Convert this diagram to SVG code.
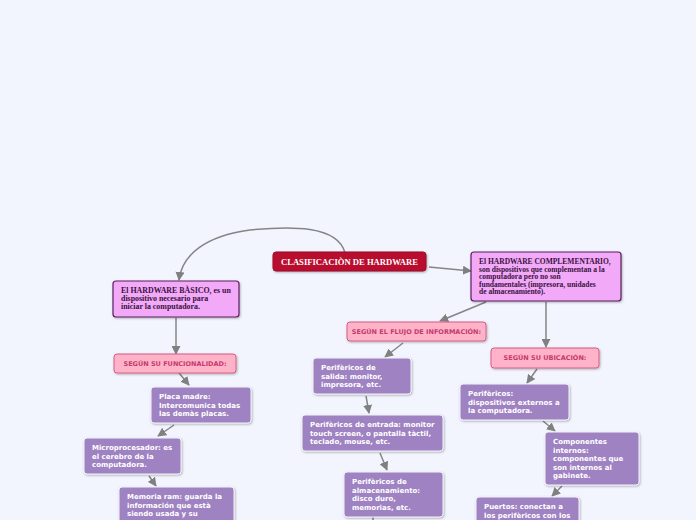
<svg xmlns="http://www.w3.org/2000/svg" width="696" height="520" viewBox="0 0 696 520">
<defs>
<marker id="ah" viewBox="0 0 10 10" refX="9" refY="5" markerWidth="9" markerHeight="9" markerUnits="userSpaceOnUse" orient="auto">
<path d="M0,0 L10,5 L0,10 z" fill="#808080"/>
</marker>
<filter id="sh" x="-10%" y="-10%" width="130%" height="140%">
<feDropShadow dx="0.8" dy="1" stdDeviation="0.8" flood-color="#000" flood-opacity="0.3"/>
</filter>
</defs>
<style>
.conn{fill:none;stroke:#858585;stroke-width:1.5;marker-end:url(#ah)}
.title{fill:#b80a2e;stroke:#9a0725;stroke-width:1}
.tt{font-family:"Liberation Serif","Times New Roman",serif;font-weight:bold;fill:#fff;font-size:8.6px}
.main{fill:#f1a9f8;stroke:#5c1f60;stroke-width:1.2}
.mt{font-family:"Liberation Serif","Times New Roman",serif;font-weight:bold;fill:#3b1240;font-size:7.9px}
.mt2{font-family:"Liberation Serif","Times New Roman",serif;font-weight:bold;fill:#3b1240;font-size:7.5px}
.lab{fill:#ffb3c9;stroke:#d65c86;stroke-width:1}
.lt{font-family:"DejaVu Sans",Verdana,sans-serif;font-weight:bold;fill:#c43a6c;font-size:6.5px}
.pb{fill:#9f82c2;stroke:#f4f1fa;stroke-width:1}
.pt{font-family:"DejaVu Sans",Verdana,sans-serif;font-weight:bold;fill:#fff;font-size:7px}
</style>
<rect width="696" height="520" fill="#f2f5fd"/>
<g id="connectors">
<path class="conn" d="M345,253 C338,225 290,226 250,230 C205,236 182,255 179,280"/>
<path class="conn" d="M176,318 L176,354"/>
<path class="conn" d="M179,373 L189,385"/>
<path class="conn" d="M174,425 L158,436"/>
<path class="conn" d="M149,476 L156,486"/>
<path class="conn" d="M429,267 L471,271"/>
<path class="conn" d="M486,302 L440,321"/>
<path class="conn" d="M546,302 L546,347"/>
<path class="conn" d="M403,343 L385,357"/>
<path class="conn" d="M366,396 L369,413"/>
<path class="conn" d="M380,453 L387,470"/>
<path d="M373,517 L373,530" fill="none" stroke="#858585" stroke-width="1.5"/>
<path class="conn" d="M537,369 L527,383"/>
<path class="conn" d="M543,421 L555,431"/>
<path class="conn" d="M562,486 L552,496"/>
</g>
<g id="n-title">
<rect class="title" x="273" y="252" width="153" height="19" rx="3" filter="url(#sh)"/>
<text class="tt" x="349.5" y="264.5" text-anchor="middle">CLASIFICACIÒN DE HARDWARE</text>
</g>
<g id="n-basico">
<rect class="main" x="113" y="281" width="126" height="36" rx="3" filter="url(#sh)"/>
<text class="mt" x="121" y="292.5">El HARDWARE BÀSICO, es un</text>
<text class="mt" x="121" y="300.5">dispositivo necesario para</text>
<text class="mt" x="121" y="308.5">iniciar la computadora.</text>
</g>
<g id="n-complementario">
<rect class="main" x="471" y="252" width="150" height="49" rx="3" filter="url(#sh)"/>
<text class="mt2" x="479" y="264">El HARDWARE COMPLEMENTARIO,</text>
<text class="mt2" x="479" y="271.5">son dispositivos que complementan a la</text>
<text class="mt2" x="479" y="279">computadora pero no son</text>
<text class="mt2" x="479" y="286.5">fundamentales (impresora, unidades</text>
<text class="mt2" x="479" y="294">de almacenamiento).</text>
</g>
<g id="n-funcionalidad">
<rect class="lab" x="114" y="354" width="122" height="19" rx="3" filter="url(#sh)"/>
<text class="lt" x="175" y="365.8" text-anchor="middle">SEGÚN SU FUNCIONALIDAD:</text>
</g>
<g id="n-flujo">
<rect class="lab" x="347" y="322" width="139" height="19" rx="3" filter="url(#sh)"/>
<text class="lt" x="416.5" y="333.8" text-anchor="middle">SEGÚN EL FLUJO DE INFORMACIÓN:</text>
</g>
<g id="n-ubicacion">
<rect class="lab" x="491" y="348" width="108" height="20" rx="3" filter="url(#sh)"/>
<text class="lt" x="545" y="360.3" text-anchor="middle">SEGÚN SU UBICACIÓN:</text>
</g>
<g id="n-placa">
<rect class="pb" x="151" y="387" width="100" height="36" rx="3" filter="url(#sh)"/>
<text class="pt" x="159" y="399">Placa madre:</text>
<text class="pt" x="159" y="407.5">Intercomunica todas</text>
<text class="pt" x="159" y="416">las demàs placas.</text>
</g>
<g id="n-micro">
<rect class="pb" x="84" y="438" width="97" height="36" rx="3" filter="url(#sh)"/>
<text class="pt" x="92" y="450">Microprocesador: es</text>
<text class="pt" x="92" y="458.5">el cerebro de la</text>
<text class="pt" x="92" y="467">computadora.</text>
</g>
<g id="n-memoria">
<rect class="pb" x="119" y="487" width="115" height="45" rx="3" filter="url(#sh)"/>
<text class="pt" x="127" y="499">Memoria ram: guarda la</text>
<text class="pt" x="127" y="507.5">información que està</text>
<text class="pt" x="127" y="516">siendo usada y su</text>
</g>
<g id="n-salida">
<rect class="pb" x="313" y="358" width="98" height="36" rx="3" filter="url(#sh)"/>
<text class="pt" x="321" y="370">Perifèricos de</text>
<text class="pt" x="321" y="378.5">salida: monitor,</text>
<text class="pt" x="321" y="387">impresora, etc.</text>
</g>
<g id="n-entrada">
<rect class="pb" x="302" y="415" width="141" height="36" rx="3" filter="url(#sh)"/>
<text class="pt" x="310" y="427">Perifèricos de entrada: monitor</text>
<text class="pt" x="310" y="435.5">touch screen, o pantalla tàctil,</text>
<text class="pt" x="310" y="444">teclado, mouse, etc.</text>
</g>
<g id="n-almacenamiento">
<rect class="pb" x="344" y="472" width="99" height="45" rx="3" filter="url(#sh)"/>
<text class="pt" x="352" y="484">Perifèricos de</text>
<text class="pt" x="352" y="492.5">almacenamiento:</text>
<text class="pt" x="352" y="501">disco duro,</text>
<text class="pt" x="352" y="509.5">memorias, etc.</text>
</g>
<g id="n-perifericos">
<rect class="pb" x="460" y="384" width="109" height="36" rx="3" filter="url(#sh)"/>
<text class="pt" x="468" y="396">Perifèricos:</text>
<text class="pt" x="468" y="404.5">dispositivos externos a</text>
<text class="pt" x="468" y="413">la computadora.</text>
</g>
<g id="n-componentes">
<rect class="pb" x="545" y="432" width="94" height="53" rx="3" filter="url(#sh)"/>
<text class="pt" x="553" y="444">Componentes</text>
<text class="pt" x="553" y="452.5">internos:</text>
<text class="pt" x="553" y="461">componentes que</text>
<text class="pt" x="553" y="469.5">son internos al</text>
<text class="pt" x="553" y="478">gabinete.</text>
</g>
<g id="n-puertos">
<rect class="pb" x="476" y="497" width="103" height="35" rx="3" filter="url(#sh)"/>
<text class="pt" x="484" y="509">Puertos: conectan a</text>
<text class="pt" x="484" y="517.5">los perifèricos con los</text>
</g>
</svg>
